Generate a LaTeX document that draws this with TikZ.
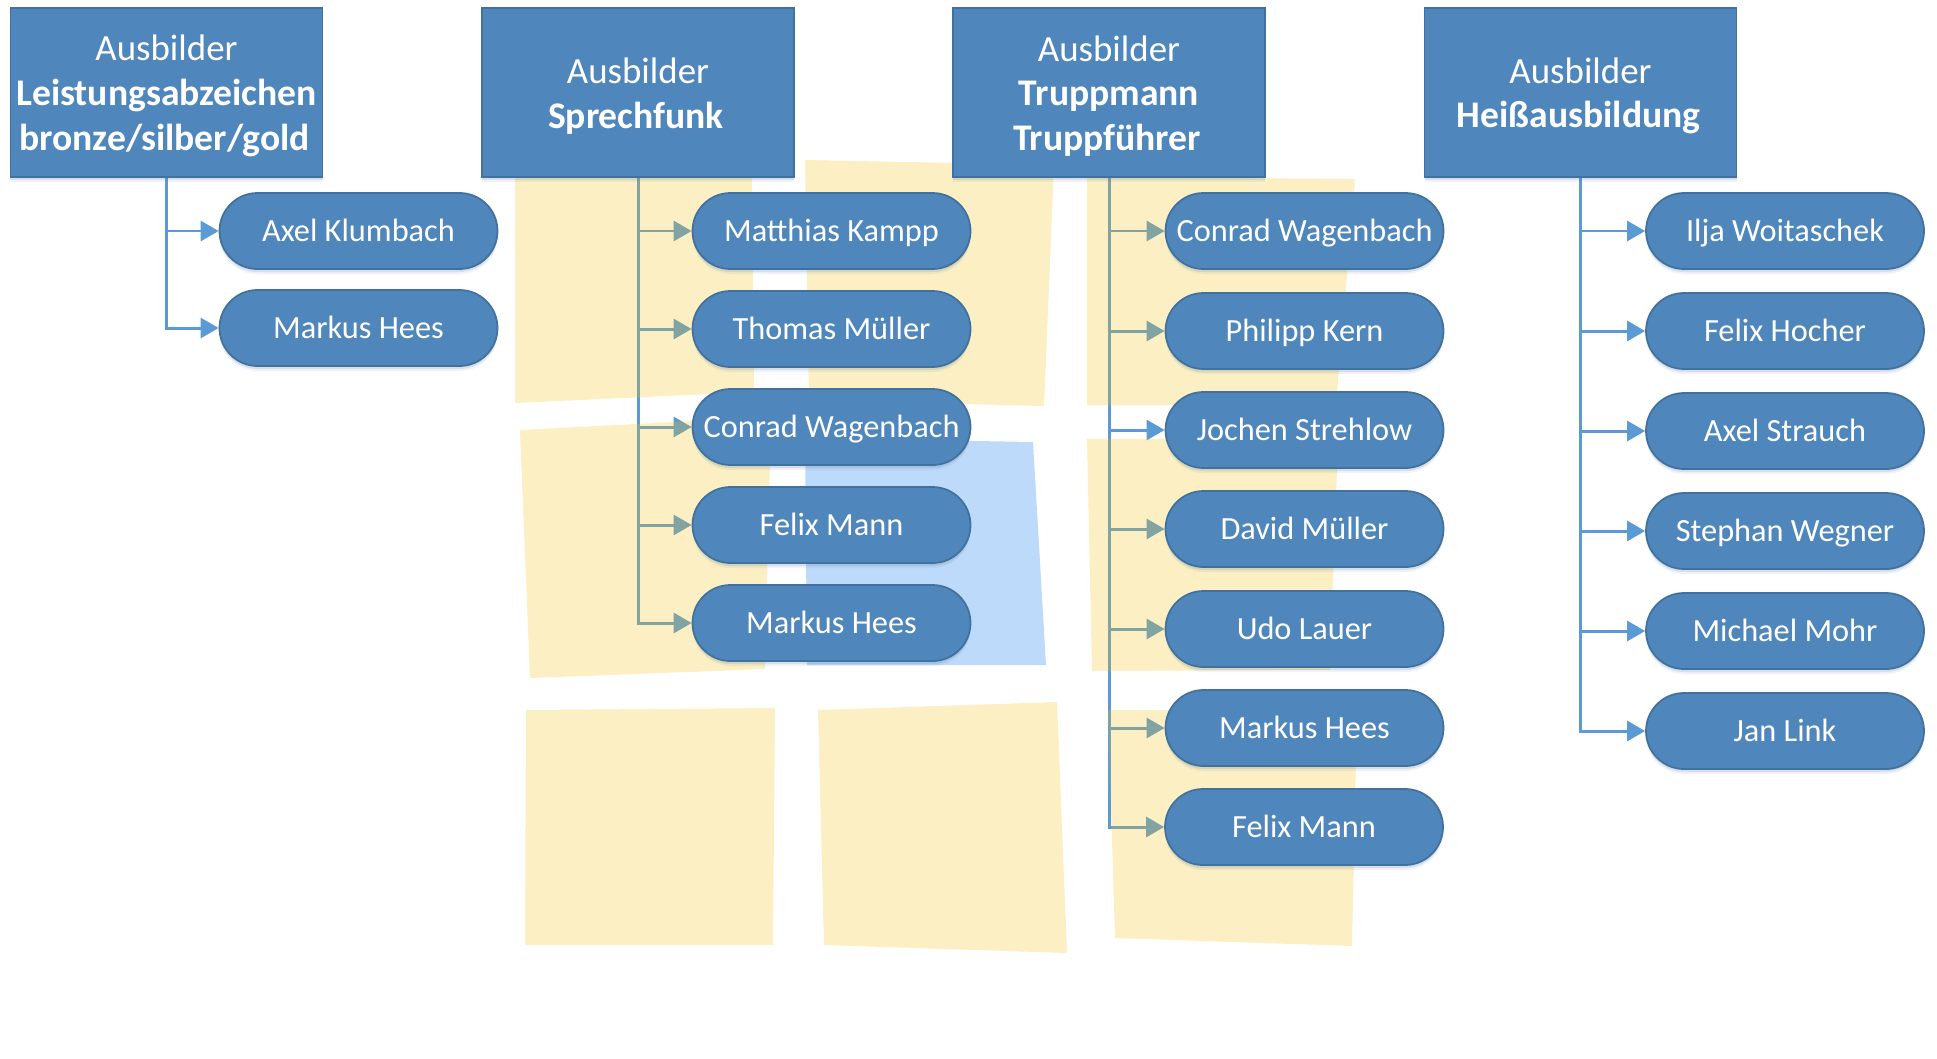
\documentclass[tikz,border=0pt]{standalone}
\usepackage{fontspec}
\setmainfont{Carlito}
\usetikzlibrary{arrows.meta,shapes.misc,shadows}
\pgfdeclarelayer{linien}
\pgfdeclarelayer{felder}
\pgfsetlayers{linien,felder,main}
\definecolor{kastenblau}{HTML}{4F86BB}
\definecolor{randblau}{HTML}{41719C}
\definecolor{linienblau}{HTML}{5B9BD5}
\definecolor{gold}{HTML}{F4C010}
\definecolor{feldblau}{HTML}{0473ED}
\newcommand{\ausbilder}{\rule{0pt}{9.2pt}Ausbilder}
\newcommand{\fett}[1]{{\fontsize{10.7}{12.7}\selectfont\bfseries #1\hspace*{0.04cm}}}
\tikzset{
  schatten/.style={
    drop shadow={shadow xshift=0cm,shadow yshift=-0.05cm,opacity=0.08,fill=randblau},
    drop shadow={shadow xshift=0cm,shadow yshift=-0.03cm,opacity=0.14,fill=randblau}},
  kopf/.style={rectangle,draw=randblau,line width=0.5pt,fill=kastenblau,text=white,schatten,
    minimum width=3.12cm,minimum height=1.69cm,inner sep=0pt,align=center,
    font=\fontsize{10.5}{12.7}\selectfont},
  person/.style={rounded rectangle,draw=randblau,line width=0.5pt,fill=kastenblau,text=white,schatten,
    minimum width=2.78cm,minimum height=0.76cm,inner sep=0pt,text height=7.5pt,text depth=1.6pt,
    font=\fontsize{9.2}{11}\selectfont},
  pfeil/.style={linienblau,line width=0.85pt,-{Triangle[length=0.18cm,width=0.2cm]}},
  gelb/.style={fill=gold,fill opacity=0.25},
  blau/.style={fill=feldblau,fill opacity=0.26}
}
\begin{document}
\begin{tikzpicture}
\useasboundingbox (0,0) rectangle (19.37,10.58);
% Kaesten oben
\node[kopf] (leistung) at (1.665,9.655) {\ausbilder\\\fett{Leistungsabzeichen}\\\fett{bronze/silber/gold}};
\node[kopf] (funk) at (6.38,9.655) {\ausbilder\\\fett{Sprechfunk}};
\node[kopf] (trupp) at (11.09,9.655) {\ausbilder\\\fett{Truppmann}\\\fett{Truppführer}};
\node[kopf] (heiss) at (15.805,9.655) {\ausbilder\\\fett{Heißausbildung}};
% Leistungsabzeichen
\node[person] (l1) at (3.585,8.27) {Axel Klumbach};
\node[person] (l2) at (3.585,7.30) {Markus Hees};
% Sprechfunk
\node[person] (f1) at (8.315,8.27) {Matthias Kampp};
\node[person] (f2) at (8.315,7.29) {Thomas Müller};
\node[person] (f3) at (8.315,6.31) {Conrad Wagenbach};
\node[person] (f4) at (8.315,5.33) {Felix Mann};
\node[person] (f5) at (8.315,4.35) {Markus Hees};
% Truppmann
\node[person] (t1) at (13.045,8.27) {Conrad Wagenbach};
\node[person] (t2) at (13.045,7.27) {Philipp Kern};
\node[person] (t3) at (13.045,6.28) {Jochen Strehlow};
\node[person] (t4) at (13.045,5.29) {David Müller};
\node[person] (t5) at (13.045,4.29) {Udo Lauer};
\node[person] (t6) at (13.045,3.30) {Markus Hees};
\node[person] (t7) at (13.04,2.31) {Felix Mann};
% Heissausbildung
\node[person] (h1) at (17.85,8.27) {Ilja Woitaschek};
\node[person] (h2) at (17.85,7.27) {Felix Hocher};
\node[person] (h3) at (17.85,6.27) {Axel Strauch};
\node[person] (h4) at (17.85,5.27) {Stephan Wegner};
\node[person] (h5) at (17.85,4.27) {Michael Mohr};
\node[person] (h6) at (17.85,3.27) {Jan Link};
% Linien
\begin{pgfonlayer}{linien}
\fill[white] (0,0) rectangle (19.37,10.58);
\draw[pfeil] (leistung.south) |- (l1.west);
\draw[pfeil] (leistung.south) |- (l2.west);
\draw[pfeil] (funk.south) |- (f1.west);
\draw[pfeil] (funk.south) |- (f2.west);
\draw[pfeil] (funk.south) |- (f3.west);
\draw[pfeil] (funk.south) |- (f4.west);
\draw[pfeil] (funk.south) |- (f5.west);
\draw[pfeil] (trupp.south) |- (t1.west);
\draw[pfeil] (trupp.south) |- (t2.west);
\draw[pfeil] (trupp.south) |- (t3.west);
\draw[pfeil] (trupp.south) |- (t4.west);
\draw[pfeil] (trupp.south) |- (t5.west);
\draw[pfeil] (trupp.south) |- (t6.west);
\draw[pfeil] (trupp.south) |- (t7.west);
\draw[pfeil] (heiss.south) |- (h1.west);
\draw[pfeil] (heiss.south) |- (h2.west);
\draw[pfeil] (heiss.south) |- (h3.west);
\draw[pfeil] (heiss.south) |- (h4.west);
\draw[pfeil] (heiss.south) |- (h5.west);
\draw[pfeil] (heiss.south) |- (h6.west);
\end{pgfonlayer}
% Felder im Hintergrund
\begin{pgfonlayer}{felder}
\fill[gelb] (5.15,8.86) -- (7.52,8.86) -- (7.54,6.66) -- (5.15,6.55) -- cycle;
\fill[gelb] (8.05,8.98) -- (10.54,8.93) -- (10.44,6.52) -- (8.09,6.58) -- cycle;
\fill[gelb] (10.87,8.81) -- (13.55,8.79) -- (13.36,6.53) -- (10.87,6.53) -- cycle;
\fill[gelb] (5.20,6.28) -- (7.71,6.41) -- (7.65,3.89) -- (5.30,3.80) -- cycle;
\fill[blau] (8.05,6.20) -- (10.33,6.16) -- (10.46,3.93) -- (8.07,3.93) -- cycle;
\fill[gelb] (10.87,6.19) -- (13.38,6.20) -- (13.30,3.88) -- (10.92,3.87) -- cycle;
\fill[gelb] (5.26,3.48) -- (7.75,3.50) -- (7.73,1.13) -- (5.25,1.13) -- cycle;
\fill[gelb] (8.18,3.48) -- (10.57,3.56) -- (10.67,1.05) -- (8.24,1.13) -- cycle;
\fill[gelb] (11.08,3.48) -- (13.57,3.48) -- (13.52,1.12) -- (11.15,1.20) -- cycle;
\end{pgfonlayer}
\end{tikzpicture}
\end{document}
